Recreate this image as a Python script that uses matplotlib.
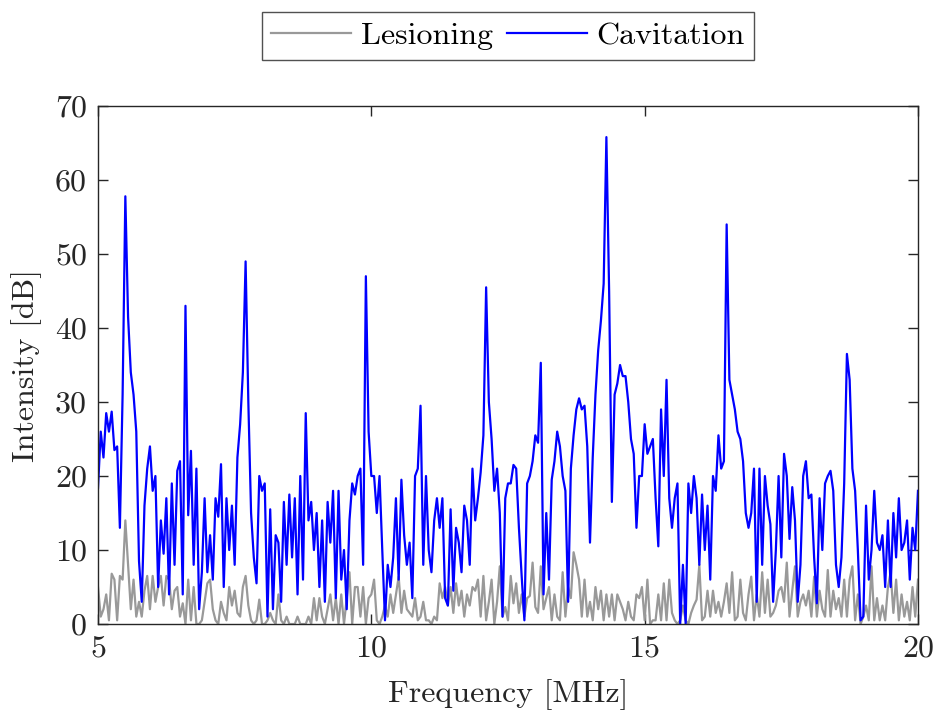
import numpy as np
import matplotlib
matplotlib.use("Agg")
import matplotlib.pyplot as plt

plt.rcParams["font.family"] = ["cmr10", "DejaVu Serif"]
plt.rcParams["axes.unicode_minus"] = False
plt.rcParams["mathtext.fontset"] = "cm"

# Frequency grid [MHz]
freq_start, freq_stop, freq_step = 5.0, 20.0, 0.05

# Cavitation spectrum [dB], one row per MHz
cavitation = [
    18.4, 26, 22.5, 28.5, 26, 28.7, 23.5, 24, 13, 31, 57.8, 41.5, 34, 31, 26, 8.5, 3, 16, 21, 24,
    18, 20, 5, 14, 9.5, 17, 4, 19, 8, 20.7, 22, 4, 43, 14.7, 23.4, 8, 21, 2, 7, 17,
    7, 12, 6, 17, 14.5, 21.6, 5, 17, 10, 16, 8, 22.5, 27, 34, 49, 30, 15, 9, 5.5, 20,
    18, 19, 1, 15.5, 2, 12, 11, 3, 16.5, 8, 17.5, 9, 17, 4, 20, 6, 28.5, 14, 16.5, 10,
    15, 5, 14, 3, 16.5, 11, 18, 3.5, 18, 6, 10, 2, 14, 19, 17.5, 20, 21, 8, 47, 26,
    20, 20, 15, 20, 10, 0.5, 8, 5, 9, 17, 6, 19.5, 12, 8, 11, 3.5, 20, 21, 29.5, 8,
    20, 10, 7, 14, 17, 13, 17, 3.5, 2.5, 15.5, 4.5, 13, 11, 7, 16, 14, 8, 21, 14, 17,
    20.5, 25.5, 45.5, 30, 25, 18, 21, 15, 1, 17, 19, 19, 21.5, 21, 13, 6.5, 0.5, 19, 20, 22,
    25.5, 24.5, 35.3, 4, 15, 6, 19.5, 22, 26, 24, 20, 18, 3, 21, 25.5, 29, 30.5, 29, 29.5, 24,
    11, 22.5, 31, 37, 41, 46, 65.8, 45, 16.5, 31, 32.5, 35, 33.5, 33.5, 30, 25, 23, 13, 20, 20,
    27, 23, 24, 25, 17, 10.5, 29, 20, 33, 17, 13, 17, 19, 0, 8, 0, 19, 15, 20, 17,
    8, 17.5, 10, 16, 6, 20, 18, 25.5, 21, 22, 54, 33, 31, 29, 26, 25, 22, 15, 13, 15,
    21, 3, 21, 8, 20, 16, 13.5, 3, 10, 20, 9, 23, 20, 11.5, 18.5, 14, 3, 8, 20, 22,
    17, 17.5, 9, 2.8, 17, 10, 19, 20, 20.7, 18, 8, 5, 9, 19, 36.5, 33, 21, 18, 10, 0.5,
    1, 16, 6, 10, 18, 11, 10, 12, 5, 14, 5, 15, 9, 17, 10, 11, 14, 6, 13, 10, 18,
]

# Lesioning spectrum [dB], one row per MHz
lesioning = [
    5, 1, 2, 4, 0.5, 6.8, 6, 0.5, 6.5, 6, 14, 8, 2, 6, 1, 3, 1, 4.5, 6.5, 2,
    6.5, 3, 5, 6.5, 2.5, 6.5, 6, 2, 4.5, 5, 1, 2.8, 0, 6, 0.5, 5, 0, 0, 0.5, 3,
    5.5, 6, 2, 0.5, 0, 3, 1.5, 0.5, 5, 2.5, 4.5, 1.5, 1, 5, 6.5, 2.5, 0.5, 0, 0.5, 3.3,
    0, 0, 0.5, 1.5, 0.5, 0, 4, 0.5, 0, 1, 0, 0, 0, 1, 0, 0, 0, 1, 0, 3.5,
    0.5, 3.5, 1, 0, 2, 4, 0.5, 3.5, 0, 4, 0, 3.5, 7, 0, 5, 5, 1, 5, 0, 3.5,
    4, 6, 0.5, 0, 1, 2.5, 1, 4, 1.5, 4, 6.4, 1.5, 4.5, 2, 1.5, 1, 3.5, 0.5, 1, 3,
    0.5, 0.5, 0, 1, 0.5, 5.5, 3.5, 5, 2.5, 5, 1.5, 5.5, 2.5, 4.5, 1, 4, 2.5, 5, 4.5, 6,
    1, 6.5, 0.5, 3, 6, 0, 3, 7.8, 1, 2.3, 0.5, 6.5, 2.8, 5.5, 1.5, 4, 1, 3.5, 3.8, 8.3,
    2.3, 1.5, 7.8, 2, 3.5, 5, 0.5, 4, 1, 0.5, 7, 1, 5, 3.5, 9.7, 8, 6, 1, 6, 1,
    3, 0.5, 5, 2, 4.5, 0.5, 4, 1, 4, 0.5, 4, 3, 2, 0.5, 3, 1, 0.5, 4, 3.5, 5,
    0.5, 6, 0, 0.5, 0.5, 4, 0.5, 5.5, 0.5, 6, 1.5, 0.5, 0, 0.5, 2.5, 0.5, 0, 1.5, 2.5, 3.3,
    8, 0.5, 1, 4.5, 1, 4.5, 1.5, 3, 1, 3, 5.5, 1.5, 7, 0.5, 1, 6, 1.5, 0.5, 4, 6.4,
    0.5, 4, 1, 7, 1.5, 6, 1, 1.5, 2.5, 4.5, 5, 3, 8.3, 1, 4.5, 7.8, 1, 3, 4, 2.5,
    4.5, 1, 6.4, 1, 4.5, 2, 1, 7.3, 1, 4.5, 2, 3.5, 1, 6, 1, 6, 7.8, 0.5, 4, 0,
    1, 2.5, 0.5, 7.8, 0.5, 3.5, 0.5, 2.5, 0.5, 5, 7, 1.5, 6, 0.5, 4, 1, 3, 0.5, 5, 1, 6,
]

series_labels = ["Lesioning", "Cavitation"]
x_ticks = [5, 10, 15, 20]
y_ticks = [0, 10, 20, 30, 40, 50, 60, 70]

n = int(round((freq_stop - freq_start) / freq_step)) + 1
freq = freq_start + freq_step * np.arange(n)

fig = plt.figure(figsize=(9.37, 7.13), dpi=100)
ax = fig.add_axes([0.1046, 0.1248, 0.8751, 0.7265])

axis_color = "#262626"
fs = 23
ax.plot(freq, lesioning, color="#999999", lw=1.6, label=series_labels[0])
ax.plot(freq, cavitation, color="#0000ff", lw=1.6, label=series_labels[1])

ax.set_xlim(freq_start, freq_stop)
ax.set_ylim(0, 70)
ax.set_xticks(x_ticks)
ax.set_yticks(y_ticks)
ax.tick_params(direction="in", top=True, right=True, length=7, width=1.0,
               colors=axis_color, labelsize=fs, pad=8)
for s in ax.spines.values():
    s.set_color(axis_color)
    s.set_linewidth(1.0)

ax.set_xlabel("Frequency [MHz]", fontsize=fs, color=axis_color, labelpad=12)
ax.set_ylabel("Intensity [dB]", fontsize=fs, color=axis_color, labelpad=9)

leg = ax.legend(loc="lower center", bbox_to_anchor=(0.5, 1.089), ncol=2,
                fontsize=fs, frameon=True, fancybox=False, handlelength=2.5,
                handletextpad=0.3, columnspacing=0.45, borderpad=0.3,
                borderaxespad=0.0)
leg.get_frame().set_edgecolor(axis_color)
leg.get_frame().set_linewidth(1.0)
for line in leg.get_lines():
    line.set_linewidth(1.6)

fig.savefig("out.png", dpi=100)
